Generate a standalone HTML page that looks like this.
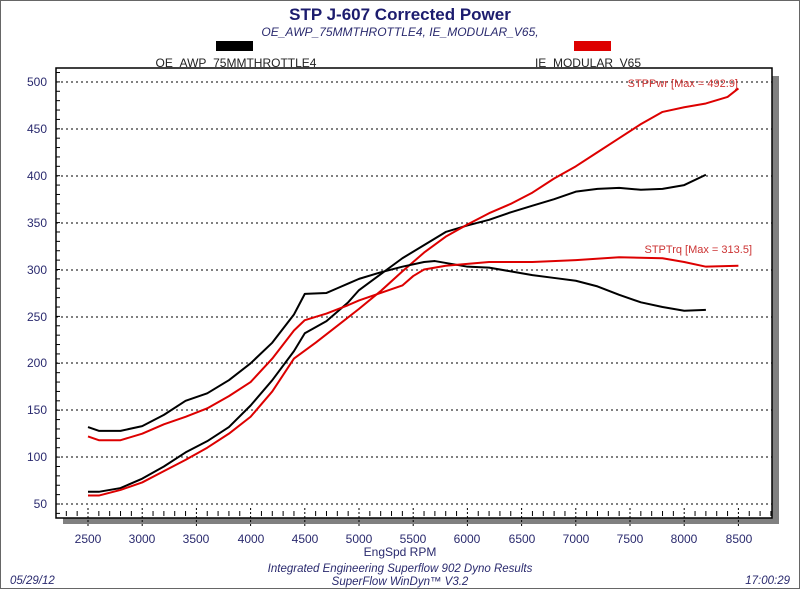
<!DOCTYPE html>
<html><head><meta charset="utf-8"><style>
html,body{margin:0;padding:0;background:#fff}
svg{display:block;font-family:"Liberation Sans",sans-serif}
</style></head><body>
<svg width="800" height="589" viewBox="0 0 800 589">
<rect x="0.5" y="0.5" width="799" height="588" fill="#fff" stroke="#666"/>
<text x="400" y="20" text-anchor="middle" font-size="17" font-weight="bold" fill="#1c1c6e">STP J-607 Corrected Power</text>
<text x="400" y="36" text-anchor="middle" font-size="12" font-style="italic" fill="#2a2a6e">OE_AWP_75MMTHROTTLE4, IE_MODULAR_V65,</text>
<rect x="216" y="41" width="37" height="10" fill="#000"/>
<rect x="574" y="41" width="37" height="10" fill="#d00"/>
<text x="236" y="67" text-anchor="middle" font-size="12" fill="#222">OE_AWP_75MMTHROTTLE4</text>
<text x="588" y="67" text-anchor="middle" font-size="12" fill="#222">IE_MODULAR_V65</text>
<!-- shadow -->
<rect x="772" y="76" width="7" height="448" fill="#808080"/>
<rect x="63" y="518" width="716" height="6" fill="#808080"/>
<rect x="56" y="68" width="716" height="450" fill="#fff" stroke="#000" stroke-width="1.5"/>
<g stroke="#000" stroke-width="1" stroke-dasharray="2,3">
<line x1="56" x2="772" y1="82" y2="82"/><line x1="56" x2="772" y1="129" y2="129"/>
<line x1="56" x2="772" y1="176" y2="176"/><line x1="56" x2="772" y1="223" y2="223"/>
<line x1="56" x2="772" y1="270" y2="270"/><line x1="56" x2="772" y1="317" y2="317"/>
<line x1="56" x2="772" y1="363" y2="363"/><line x1="56" x2="772" y1="410" y2="410"/>
<line x1="56" x2="772" y1="457" y2="457"/><line x1="56" x2="772" y1="504" y2="504"/>
</g>
<g id="ticks" stroke="#000"></g>
<g font-size="12" fill="#2a2a6e" text-anchor="end">
<text x="47" y="86">500</text><text x="47" y="133">450</text><text x="47" y="180">400</text>
<text x="47" y="227">350</text><text x="47" y="274">300</text><text x="47" y="321">250</text>
<text x="47" y="367">200</text><text x="47" y="414">150</text><text x="47" y="461">100</text>
<text x="47" y="508">50</text>
</g>
<g font-size="12" fill="#2a2a6e" text-anchor="middle">
<text x="88" y="543">2500</text><text x="142" y="543">3000</text><text x="196" y="543">3500</text>
<text x="251" y="543">4000</text><text x="305" y="543">4500</text><text x="359" y="543">5000</text>
<text x="413" y="543">5500</text><text x="467" y="543">6000</text><text x="522" y="543">6500</text>
<text x="576" y="543">7000</text><text x="630" y="543">7500</text><text x="684" y="543">8000</text>
<text x="739" y="543">8500</text>
<text x="400" y="556">EngSpd RPM</text>
<text x="400" y="572" font-style="italic" font-size="11.5">Integrated Engineering Superflow 902 Dyno Results</text>
<text x="400" y="585" font-style="italic" font-size="11.5">SuperFlow WinDyn™ V3.2</text>
</g>
<text x="10" y="584" font-size="11.5" font-style="italic" fill="#2a2a6e">05/29/12</text>
<text x="790" y="584" font-size="11.5" font-style="italic" fill="#2a2a6e" text-anchor="end">17:00:29</text>
<text x="738" y="87" font-size="11" fill="#c33" text-anchor="end">STPPwr [Max = 492.9]</text>
<text x="752" y="253" font-size="11" fill="#c33" text-anchor="end">STPTrq [Max = 313.5]</text>
<g transform="translate(88,504) scale(0.1084,-0.938) translate(-2500,-50)" fill="none" stroke-width="2" stroke-linejoin="round">
<polyline vector-effect="non-scaling-stroke" stroke="#000" points="2500,63 2600,63 2800,67 3000,77 3200,90 3400,105 3600,117 3800,132 4000,155 4200,182 4400,213 4500,232 4700,245 4900,265 5000,278 5200,295 5400,312 5600,326 5800,340 6000,347 6200,353 6400,361 6600,368 6800,375 7000,383 7200,386 7400,387 7600,385 7800,386 8000,390 8200,401"/>
<polyline vector-effect="non-scaling-stroke" stroke="#d00" points="2500,59 2600,59 2800,65 3000,73 3200,85 3400,97 3600,110 3800,125 4000,143 4200,170 4400,205 4600,222 4800,240 5000,258 5200,277 5400,298 5600,318 5800,335 6000,348 6200,360 6400,370 6600,382 6800,397 7000,410 7200,425 7400,440 7600,455 7800,468 8000,473 8200,477 8400,484 8500,493"/>
<polyline vector-effect="non-scaling-stroke" stroke="#000" points="2500,132 2600,128 2800,128 3000,133 3200,145 3400,160 3600,168 3800,182 4000,200 4200,222 4400,252 4500,274 4700,275 4800,280 4900,285 5000,290 5200,297 5400,303 5600,308 5700,309 5800,307 6000,303 6200,302 6400,298 6600,294 6800,291 7000,288 7200,282 7400,273 7600,265 7800,260 8000,256 8200,257"/>
<polyline vector-effect="non-scaling-stroke" stroke="#d00" points="2500,122 2600,118 2800,118 3000,125 3200,135 3400,143 3600,152 3800,165 4000,180 4200,205 4400,235 4500,246 4700,253 4900,262 5000,267 5200,275 5400,283 5500,293 5600,300 5800,304 6000,306 6200,308 6600,308 7000,310 7400,313 7800,312 8000,308 8200,303 8500,304"/>
</g>
</svg>
<script>
var g=document.getElementById('ticks'),s='';
for(var v=40;v<=510;v+=10){var y=504-(v-50)*0.938;if(y<69||y>517)continue;s+='<line x1="56" x2="60" y1="'+y+'" y2="'+y+'"/>';}
for(var r=2200;r<=8800;r+=100){var x=88+(r-2500)*0.1084;if(x<57||x>771)continue;var big=(r%500==0);s+='<line x1="'+x+'" x2="'+x+'" y1="'+(big?508:511)+'" y2="'+(big?528:516)+'" stroke-dasharray="'+(big?'2,2':'none')+'"/>';}
g.innerHTML=s;
</script>
</body></html>
